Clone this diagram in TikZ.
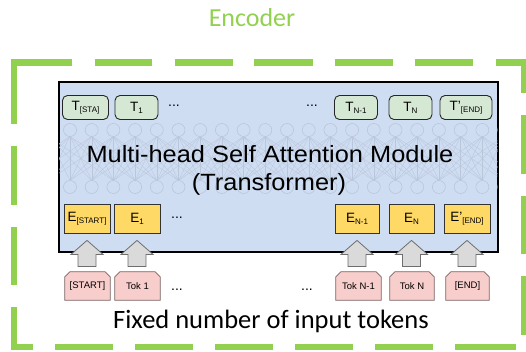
\documentclass[tikz,border=0pt]{standalone}
\usepackage{fontspec}
\setmainfont{Liberation Sans}
\newfontfamily\calfont{Carlito}
\usetikzlibrary{calc}
\pgfdeclarelayer{bg}
\pgfsetlayers{bg,main}
\definecolor{encgreen}{HTML}{92D050}
\definecolor{boxblue}{HTML}{CFDDF3}
\definecolor{netgray}{HTML}{A8B3C4}
\definecolor{tgreen}{HTML}{D5E8D4}
\definecolor{eyellow}{HTML}{FFD966}
\definecolor{tokpink}{HTML}{F8CECC}
\definecolor{tokline}{HTML}{7A6262}
\definecolor{arrfill}{HTML}{DADADA}
\definecolor{arrline}{HTML}{6E6E6E}
\newcommand\subtxt[1]{\raisebox{-1.8pt}{\fontsize{8}{9}\selectfont #1}}
\tikzset{
  frame/.style={draw=encgreen, line width=6.5pt, line cap=butt, line join=miter},
  tnode/.style={draw=black!85, fill=tgreen, rounded corners=5pt, line width=0.9pt,
    minimum height=24pt, inner sep=0pt, font=\fontsize{13.5}{15}\selectfont},
  enode/.style={draw=black!80, fill=eyellow, line width=0.8pt,
    minimum height=29pt, inner sep=0pt, font=\fontsize{13.5}{15}\selectfont},
  tok/.style={minimum height=28pt, inner sep=0pt, font=\fontsize{9.5}{10}\selectfont},
  tokshape/.style={draw=tokline, fill=tokpink, line width=0.8pt},
  blk/.style={draw=arrline, fill=arrfill, line width=0.8pt, line join=miter},
  dots/.style={font=\fontsize{14}{14}\selectfont, inner sep=0pt},
  net/.style={draw=netgray!55!boxblue, line width=0.6pt},
}
\begin{document}
\begin{tikzpicture}[x=1pt,y=-1pt]
\useasboundingbox (0,0) rectangle (526,351);

% green dashed frame
\begin{scope}[frame]
\draw (14,124) -- (14,62.5) -- (72,62.5);
\foreach \a/\b in {95/152,175/233,254/313,335/393,415/473} \draw (\a,62.5) -- (\b,62.5);
\draw (496,62.5) -- (524.5,62.5) -- (524.5,93);
\foreach \a/\b in {115/174,196/254,276/335} \draw (524.5,\a) -- (524.5,\b);
\foreach \a/\b in {55/113,135/193,215/273,295/353,375/433,455/516} \draw (\a,347) -- (\b,347);
\draw (14,307) -- (14,347) -- (33,347);
\foreach \a/\b in {146/205,227/285} \draw (14,\a) -- (14,\b);
\end{scope}

\node[font=\calfont\fontsize{26}{30}\selectfont, text=encgreen, anchor=base, inner sep=0pt] (enc) at (252,26) {Encoder};

% transformer box
\node[draw=black, fill=boxblue, line width=2pt, minimum width=438.5pt, minimum height=169.5pt, inner sep=0pt] (tf) at (278.25,166.75) {};

% faint network
\begin{scope}
\clip ([xshift=1pt,yshift=1pt]tf.south west) rectangle ([xshift=-1pt,yshift=-1pt]tf.north east);
\foreach \i in {-1,...,20} {
  \foreach \d in {-3,...,3} {
    \draw[net, line width=0.35pt] (70+21.7*\i,136.5) -- (70+21.7*\i+21.7*\d,180.5);
  }
}
\foreach \i in {-1,...,20} {
  \draw[net] (70+21.7*\i,130) circle (6.5);
  \draw[net] (70+21.7*\i,187) circle (6.5);
}
\end{scope}

% main text
\node[anchor=base, inner sep=0pt, font=\fontsize{23.5}{26}\selectfont] (mt1) at (270,162) {\scalebox{1.08}[1]{Multi-head Self Attention Module}};
\node[anchor=base, inner sep=0pt, font=\fontsize{23.5}{26}\selectfont] (mt2) at (269,190) {\scalebox{1.08}[1]{(Transformer)}};

% T nodes
\node[tnode, minimum width=46pt] (t0) at (85.5,107.5) {T\subtxt{[STA]}};
\node[tnode, minimum width=43pt] (t1) at (136.5,107.5) {T\subtxt{1}};
\node[dots] (td1) at (174,106) {...};
\node[dots] (td2) at (312,106) {...};
\node[tnode, minimum width=43pt] (tn1) at (356,107.5) {T\subtxt{N-1}};
\node[tnode, minimum width=43pt] (tn) at (410.5,107.5) {T\subtxt{N}};
\node[tnode, minimum width=52pt] (tend) at (466,107.5) {T'\subtxt{[END]}};

% E nodes
\node[enode, minimum width=46pt] (e0) at (87,218.5) {E\subtxt{[START]}};
\node[enode, minimum width=46pt] (e1) at (137,218.5) {E\subtxt{1}};
\node[dots] (ed1) at (177,218) {...};
\node[enode, minimum width=44pt] (en1) at (357,218.5) {E\subtxt{N-1}};
\node[enode, minimum width=45pt] (en) at (411.5,218.5) {E\subtxt{N}};
\node[enode, minimum width=46pt] (eend) at (467,218.5) {E'\subtxt{[END]}};

% tokens
\foreach \n/\x/\w/\t in {k0/87.5/45/{[START]}, k1/137.5/45/{Tok 1}, kn1/358.5/45/{Tok N-1}, kn/412/44/{Tok N}, kend/467.5/43/{[END]}} {
  \node[tok, minimum width=\w pt] (\n) at (\x,286) {\t};
  \begin{pgfonlayer}{bg}
    \draw[tokshape] ([yshift=-5pt]\n.north west) -- ([xshift=5pt]\n.north west) -- ([xshift=-5pt]\n.north east) -- ([yshift=-5pt]\n.north east) -- (\n.south east) -- (\n.south west) -- cycle;
  \end{pgfonlayer}
}
\node[dots] (kd1) at (177,290) {...};
\node[dots] (kd2) at (307,290) {...};

% block arrows
\foreach \e/\k in {e0/k0, e1/k1, en1/kn1, en/kn, eend/kend} {
  \draw[blk] ([yshift=-7pt]\e.south) -- ++(16,14) -- ++(-7,0) -- ++(0,12) -- ++(-18,0) -- ++(0,-12) -- ++(-7,0) -- cycle;
}

\node[font=\calfont\fontsize{26.5}{30}\selectfont, anchor=base, inner sep=0pt] (fixed) at (271,328) {Fixed number of input tokens};
\end{tikzpicture}
\end{document}
